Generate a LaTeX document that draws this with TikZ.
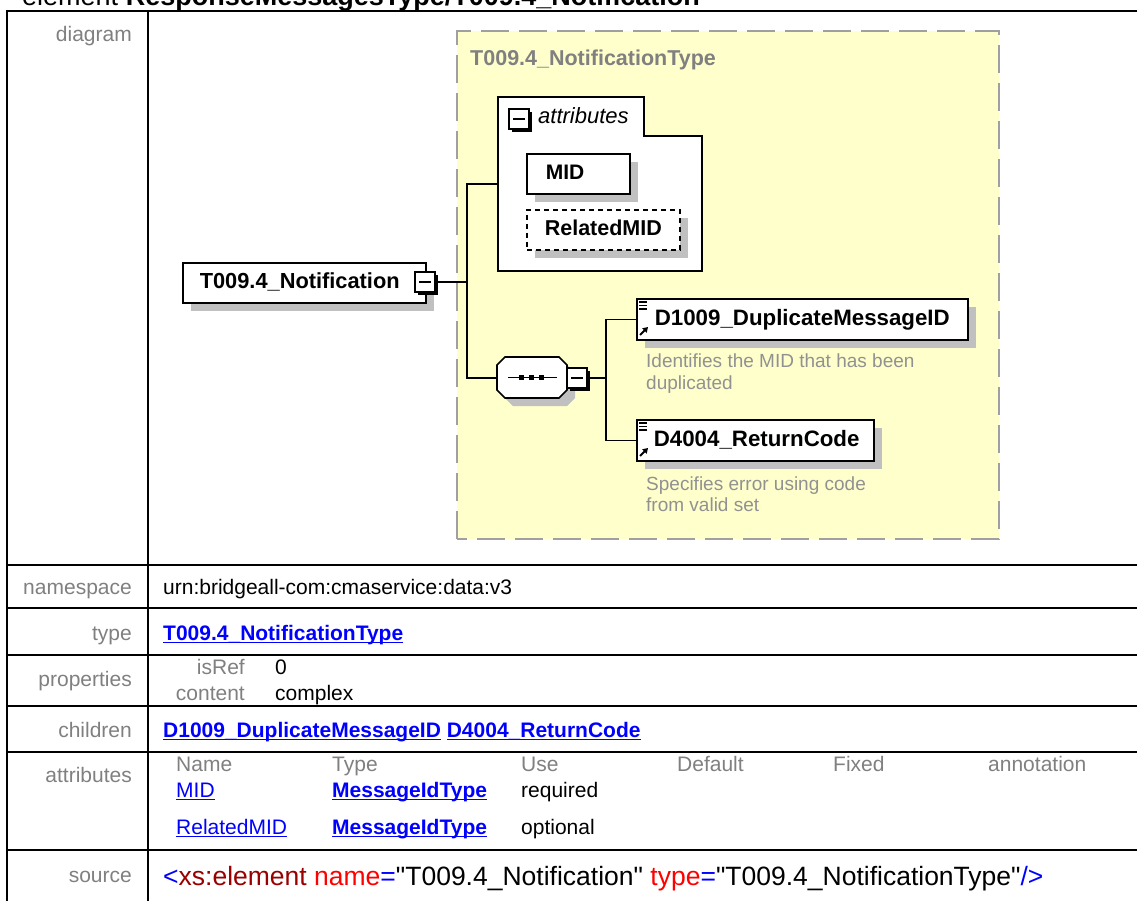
\documentclass[tikz,border=0pt]{standalone}
\usepackage{fontspec}
\setmainfont{Liberation Sans}
\newfontfamily\srcfont{Liberation Sans}
\usetikzlibrary{shadows,arrows.meta}
\definecolor{lbl}{RGB}{128,128,128}
\definecolor{lnkblue}{RGB}{0,0,255}
\definecolor{yel}{RGB}{255,255,204}
\definecolor{dashgray}{RGB}{160,160,160}
\definecolor{shad}{RGB}{192,192,192}
\definecolor{anno}{RGB}{145,145,145}
\definecolor{dred}{RGB}{153,0,0}
\newcommand\fs[1]{\fontsize{#1}{#1}\selectfont}
\newcommand\ulnk[1]{\setbox0=\hbox{#1}\rlap{\copy0}\rule[-3pt]{\wd0}{1.5pt}}
\begin{document}
\begin{tikzpicture}[x=1pt,y=-1pt,
  lab/.style={anchor=base east, inner sep=0, text=lbl, font=\fs{21}},
  val/.style={anchor=base west, inner sep=0, font=\fs{21}},
  lnk/.style={anchor=base west, inner sep=0, text=lnkblue, font=\fs{21}\bfseries},
  tline/.style={line width=2.5pt, black},
  conn/.style={line width=1.6pt, black},
  box/.style={draw, fill=white, line width=1.6pt, anchor=north west, inner sep=0, align=left,
    font=\fs{22}\bfseries, text height=16pt, text depth=4.5pt,
    drop shadow={shadow xshift=8pt, shadow yshift=-8pt, fill=shad, opacity=1}},
  minus/.style={draw, fill=white, line width=2.2pt, minimum size=20pt, inner sep=0,
    drop shadow={shadow xshift=2.8pt, shadow yshift=-2.8pt, fill=black, opacity=1},
    path picture={\draw[line width=2pt] ([xshift=-6pt]path picture bounding box.center) -- ([xshift=6pt]path picture bounding box.center);}},
  anno/.style={anchor=base west, inner sep=0, text=anno, font=\fs{19}}
]
\useasboundingbox (0,0) rectangle (1137,900);
\fill[white] (0,0) rectangle (1137,900);

% heading (cut at top, as in the reference)
\node[anchor=base west, inner sep=0, font=\fs{27}] (hdr) at (22,5) {element \textbf{ResponseMessagesType/T009.4\_Notification}};

% table grid
\draw[tline] (5.75,11) -- (1140,11);
\foreach \yy in {565,608,655,706,752,850} \draw[tline] (5.75,\yy) -- (1140,\yy);
\draw[tline] (7,9.75) -- (7,905);
\draw[tline] (148,9.75) -- (148,905);

% ---------- diagram ----------
\fill[yel] (457,31) rectangle (999,539);
\draw[dashgray, line width=2.5pt, dash pattern=on 28pt off 10pt] (457,539) -- (457,31) -- (999,31) -- (999,539) -- cycle;
\node[anchor=base west, inner sep=0, text=lbl, font=\fs{21.5}\bfseries] (ttl) at (470,65) {T009.4\_NotificationType};

% element
\node[box, minimum width=243pt, minimum height=40pt, text width=243pt, font=\fs{21.8}\bfseries] (el) at (182,262) {\hspace*{17pt}T009.4\_Notification};
\node[minus] (elm) at (425,282) {};

% attributes group
\node[anchor=north west, minimum width=204pt, minimum height=174pt, inner sep=0] (attr) at (498,97) {};
\draw[line width=1.6pt, fill=white] (498,97) -- (644,97) -- (644,136) -- (702,136) -- (702,271) -- (498,271) -- cycle;
\node[minus] (attrm) at (519,119) {};
\node[anchor=base west, inner sep=0, font=\fs{22}\itshape] (attrl) at (538,123) {attributes};
\node[box, minimum width=103pt, minimum height=40pt, text width=103pt, font=\fs{21}\bfseries] (mid) at (526,153) {\hspace*{19pt}MID};
\node[box, dash pattern=on 5pt off 4pt, minimum width=153pt, minimum height=40pt, text width=153pt, font=\fs{21.5}\bfseries] (rmid) at (526,209) {\hspace*{18pt}RelatedMID};

% sequence compositor
\node[anchor=north west, minimum width=70pt, minimum height=41pt, inner sep=0] (seq) at (497,357) {};
\fill[shad, shift={(8,8)}] (505,357) -- (559,357) -- (567,365) -- (567,390) -- (559,398) -- (505,398) -- (497,390) -- (497,365) -- cycle;
\draw[line width=1.6pt, fill=white] (505,357) -- (559,357) -- (567,365) -- (567,390) -- (559,398) -- (505,398) -- (497,390) -- (497,365) -- cycle;
\draw[line width=1.6pt] (508,377.5) -- (557,377.5);
\foreach \xx in {521.7,531.7,541.7} \fill (\xx-2.7,375) rectangle (\xx+2.7,380.2);
\node[minus] (seqm) at (577,378) {};

% child elements
\node[box, minimum width=331pt, minimum height=41pt, text width=331pt, font=\fs{22.3}\bfseries] (d1) at (636,298) {\hspace*{18pt}D1009\_DuplicateMessageID};
\node[box, minimum width=237pt, minimum height=41pt, text width=237pt, font=\fs{22.3}\bfseries] (d4) at (636,419) {\hspace*{17pt}D4004\_ReturnCode};
\foreach \bx/\by in {636/298, 636/419} {
  \foreach \k in {4,7.5,11} \draw[line width=1.5pt] (\bx+3,\by+\k) -- (\bx+11,\by+\k);
  \draw[line width=2pt, -{Triangle[length=5pt,width=6pt]}] (\bx+4,\by+37) -- (\bx+12,\by+29);
}
\node[anno] (a1) at (646,367) {Identifies the MID that has been};
\node[anno] (a1b) at (646,389) {duplicated};
\node[anno] (a2) at (646,490) {Specifies error using code};
\node[anno] (a2b) at (646,511) {from valid set};

% connectors
\draw[conn] (elm.east) -- ++(31,0) coordinate (j1);
\draw[conn] (attr.west) -| (j1);
\draw[conn] (seq.west) -| (j1);
\draw[conn] (seqm.east) -- ++(18,0) coordinate (j2);
\draw[conn] (d1.west) -| (j2);
\draw[conn] (d4.west) -| (j2);

% ---------- table texts ----------
\node[lab] (ldia) at (132,41) {diagram};
\node[lab] (lns) at (132,594) {namespace};
\node[val] (vns) at (163,594) {urn:bridgeall-com:cmaservice:data:v3};
\node[lab] (ltype) at (132,640) {type};
\node[lnk] (vtype) at (163,640) {\ulnk{T009.4\_NotificationType}};
\node[lab] (lprop) at (132,686) {properties};
\node[lab] (pisref) at (245,674) {isRef};
\node[val] (visref) at (275,674) {0};
\node[lab] (pcont) at (245,700) {content};
\node[val] (vcont) at (275,700) {complex};
\node[lab] (lchild) at (132,737) {children};
\node[lnk] (vchild) at (163,737) {\ulnk{D1009\_DuplicateMessageID} \ulnk{D4004\_ReturnCode}};
\node[lab] (lattr) at (132,782) {attributes};
\node[val, text=lbl] (hname) at (176,771) {Name};
\node[val, text=lbl] (htype) at (332,771) {Type};
\node[val, text=lbl] (huse) at (521,771) {Use};
\node[val, text=lbl] (hdef) at (677,771) {Default};
\node[val, text=lbl] (hfix) at (833,771) {Fixed};
\node[val, text=lbl] (hann) at (988,771) {annotation};
\node[val, text=lnkblue] (r1n) at (176,797) {\ulnk{MID}};
\node[lnk] (r1t) at (332,797) {\ulnk{MessageIdType}};
\node[val] (r1u) at (521,797) {required};
\node[val, text=lnkblue] (r2n) at (176,834) {\ulnk{RelatedMID}};
\node[lnk] (r2t) at (332,834) {\ulnk{MessageIdType}};
\node[val] (r2u) at (521,834) {optional};
\node[lab] (lsrc) at (132,882) {source};
\node[anchor=base west, inner sep=0, font=\srcfont\fs{26.5}] (vsrc) at (163,885) {{\color{lnkblue}<}{\color{dred}xs:element} {\color{red}name}{\color{lnkblue}=}"T009.4\_Notification" {\color{red}type}{\color{lnkblue}=}"T009.4\_NotificationType"{\color{lnkblue}/>}};
\end{tikzpicture}
\end{document}
